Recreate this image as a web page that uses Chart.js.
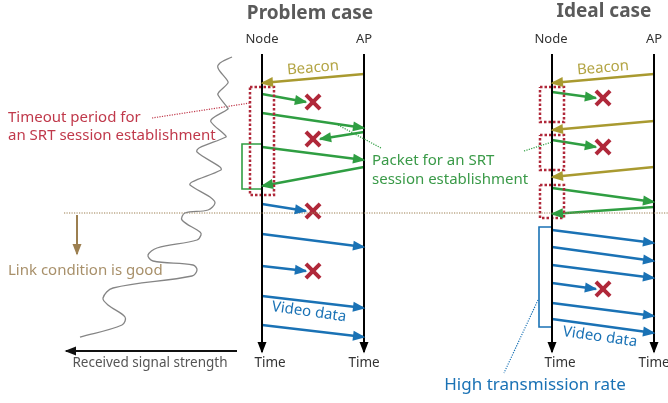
<!DOCTYPE html>
<html>
<head>
<meta charset="utf-8">
<script src="https://cdn.jsdelivr.net/npm/chart.js@4.4.0/dist/chart.umd.min.js"></script>
<style>
  html, body { margin: 0; padding: 0; background: #fff; }
</style>
</head>
<body>
<canvas id="diagram" width="668" height="403"></canvas>
<script>
// --- data: message times along each lifeline (top = earlier) ---
// [sendTime, arriveTime, lost?]
const problemBeacons = [[74, 83]];
const problemSrt = [[94, 102, true], [113, 128], [147, 160]];        // Node -> AP
const problemSrtReply = [[132, 139, true], [167, 186]];               // AP -> Node
const problemVideo = [[204, 211, true], [234, 247], [266, 271, true], [296, 308], [325, 337]];
const problemTimeout = [[87, 195]];
const problemRetry = [144, 189];

const idealBeacons = [[74, 83], [121, 130], [167, 177]];
const idealSrt = [[92, 98, true], [140, 147, true], [188, 202]];
const idealSrtReply = [[207, 214]];
const idealVideo = [[230, 243], [247, 261], [265, 278], [283, 289, true], [303, 316], [319, 333]];
const idealTimeout = [[87, 122], [135, 170], [185, 218]];
const idealBurst = [227, 327];

const linkGoodTime = 213;

// received signal strength trace (strength, time)
const signalStrength = [232, 220, 218, 227, 228, 219, 218, 227, 228, 213, 211, 225, 226, 199, 197, 220, 221, 192, 190, 210,
  215, 208, 185, 182, 200, 201, 197, 157, 148, 153, 193, 197, 192, 113, 103, 108, 125, 122, 80];
const signalTime = [57, 63, 68, 80, 83, 92, 95, 107, 109, 118, 122, 135, 137, 148, 152, 167, 170, 182, 185, 197,
  203, 210, 213, 220, 232, 235, 240, 248, 255, 261, 265, 270, 276, 288, 298, 305, 317, 325, 337];

// --- layout ---
const lanes = { problem: { node: 262, ap: 364 }, ideal: { node: 552, ap: 654 } };
const laneTop = 54, laneBottom = 352;

const GREEN = '#2f9e42', BEACON = '#a99a30', BLUE = '#1a72b5', RED = '#b0283a', TAN = '#9c7f50';

const datasets = [];
const crosses = [];

function line(points, color, opts) {
  datasets.push(Object.assign({
    data: points, showLine: true, borderColor: color, backgroundColor: color,
    borderWidth: 2.5, pointRadius: 0, tension: 0, fill: false
  }, opts || {}));
}

function messages(list, fromX, toX, color) {
  list.forEach(m => {
    let endX = toX;
    if (m[2]) {
      endX = fromX + (toX - fromX) * 0.43;
      crosses.push({ x: fromX + (toX - fromX) * 0.5, y: m[1] });
    }
    line([{ x: fromX, y: m[0] }, { x: endX, y: m[1] }], color, { arrow: true });
  });
}

function timeoutBoxes(list, nodeX) {
  list.forEach(t => {
    line([{ x: nodeX - 12, y: t[0] }, { x: nodeX + 12, y: t[0] }, { x: nodeX + 12, y: t[1] },
      { x: nodeX - 12, y: t[1] }, { x: nodeX - 12, y: t[0] }], RED, { borderDash: [2.5, 2], borderWidth: 2.5 });
  });
}

function bracket(t, nodeX, width, color) {
  line([{ x: nodeX, y: t[0] }, { x: nodeX - width, y: t[0] }, { x: nodeX - width, y: t[1] }, { x: nodeX, y: t[1] }],
    color, { borderWidth: 1.6 });
}

// signal strength trace
line(signalStrength.map((s, i) => ({ x: s, y: signalTime[i] })), '#858585', { borderWidth: 1.3, tension: 0.35 });

// link condition line + arrow
line([{ x: 64, y: linkGoodTime }, { x: 668, y: linkGoodTime }], TAN, { borderWidth: 1.2, borderDash: [1.2, 1.3] });
line([{ x: 77, y: linkGoodTime + 2 }, { x: 77, y: 254 }], TAN, { borderWidth: 2, arrow: true, headLen: 10, headWidth: 4.5 });

// received signal strength axis
line([{ x: 237, y: 351 }, { x: 66, y: 351 }], '#111', { borderWidth: 2, arrow: true, headLen: 10, headWidth: 4.5 });

// leaders
line([{ x: 152, y: 118 }, { x: 250, y: 103 }], '#c0394b', { borderWidth: 1.2, borderDash: [1.2, 1.3] });
line([{ x: 338, y: 125 }, { x: 381, y: 148 }], GREEN, { borderWidth: 1.2, borderDash: [1.2, 1.3] });
line([{ x: 524, y: 151 }, { x: 552, y: 142 }], GREEN, { borderWidth: 1.2, borderDash: [1.2, 1.3] });
line([{ x: 538, y: 300 }, { x: 504, y: 373 }], BLUE, { borderWidth: 1.2, borderDash: [1.2, 1.3] });

// lifelines
Object.values(lanes).forEach(l => {
  line([{ x: l.node, y: laneTop }, { x: l.node, y: laneBottom }], '#000', { borderWidth: 2, arrow: true, headLen: 10, headWidth: 4.5 });
  line([{ x: l.ap, y: laneTop }, { x: l.ap, y: laneBottom }], '#000', { borderWidth: 2, arrow: true, headLen: 10, headWidth: 4.5 });
});

// problem case
timeoutBoxes(problemTimeout, lanes.problem.node);
bracket(problemRetry, lanes.problem.node, 20, GREEN);
messages(problemBeacons, lanes.problem.ap, lanes.problem.node, BEACON);
messages(problemSrt, lanes.problem.node, lanes.problem.ap, GREEN);
messages(problemSrtReply, lanes.problem.ap, lanes.problem.node, GREEN);
messages(problemVideo, lanes.problem.node, lanes.problem.ap, BLUE);

// ideal case
timeoutBoxes(idealTimeout, lanes.ideal.node);
bracket(idealBurst, lanes.ideal.node, 13, BLUE);
messages(idealBeacons, lanes.ideal.ap, lanes.ideal.node, BEACON);
messages(idealSrt, lanes.ideal.node, lanes.ideal.ap, GREEN);
messages(idealSrtReply, lanes.ideal.ap, lanes.ideal.node, GREEN);
messages(idealVideo, lanes.ideal.node, lanes.ideal.ap, BLUE);

// lost packets
datasets.push({
  data: crosses, showLine: false, pointStyle: 'crossRot', pointRadius: 10,
  borderColor: RED, backgroundColor: RED, pointBorderWidth: 4
});

const FONT = '"Noto Sans", "Open Sans", sans-serif';
const texts = [
  { t: 'Problem case', x: 310, y: 14, c: '#5a5a5a', f: 'bold 19px' },
  { t: 'Ideal case', x: 604, y: 12, c: '#5a5a5a', f: 'bold 19px' },
  { t: 'Node', x: 262, y: 39, c: '#333', f: '13px' },
  { t: 'AP', x: 364, y: 39, c: '#333', f: '13px' },
  { t: 'Node', x: 551, y: 39, c: '#333', f: '13px' },
  { t: 'AP', x: 654, y: 39, c: '#333', f: '13px' },
  { t: 'Beacon', x: 313, y: 68, c: '#b3a443', f: '15px', r: -5 },
  { t: 'Beacon', x: 603, y: 68, c: '#b3a443', f: '15px', r: -5 },
  { t: 'Timeout period for', x: 8, y: 118, c: '#c0394b', f: '15px', a: 'left' },
  { t: 'an SRT session establishment', x: 8, y: 136, c: '#c0394b', f: '15px', a: 'left' },
  { t: 'Packet for an SRT', x: 372, y: 161, c: '#3a9a48', f: '15px', a: 'left' },
  { t: 'session establishment', x: 372, y: 180, c: '#3a9a48', f: '15px', a: 'left' },
  { t: 'Link condition is good', x: 8, y: 271, c: '#a8906a', f: '15px', a: 'left' },
  { t: 'Video data', x: 309, y: 312, c: BLUE, f: '15px', r: 8 },
  { t: 'Video data', x: 600, y: 337, c: BLUE, f: '15px', r: 8 },
  { t: 'Received signal strength', x: 150, y: 363, c: '#555', f: '13.5px' },
  { t: 'Time', x: 270, y: 363, c: '#333', f: '13.5px' },
  { t: 'Time', x: 364, y: 363, c: '#333', f: '13.5px' },
  { t: 'Time', x: 560, y: 363, c: '#333', f: '13.5px' },
  { t: 'Time', x: 654, y: 363, c: '#333', f: '13.5px' },
  { t: 'High transmission rate', x: 535, y: 385, c: BLUE, f: '17px' }
];

const arrowHeads = {
  id: 'arrowHeads',
  afterDatasetsDraw(chart) {
    const ctx = chart.ctx;
    chart.data.datasets.forEach((ds, i) => {
      if (!ds.arrow) return;
      const pts = chart.getDatasetMeta(i).data;
      const a = pts[pts.length - 2], b = pts[pts.length - 1];
      const ang = Math.atan2(b.y - a.y, b.x - a.x);
      const len = ds.headLen || 11, w = ds.headWidth || 5;
      ctx.save();
      ctx.fillStyle = ds.borderColor;
      ctx.translate(b.x, b.y);
      ctx.rotate(ang);
      ctx.beginPath();
      ctx.moveTo(1.5, 0);
      ctx.lineTo(-len, -w);
      ctx.lineTo(-len, w);
      ctx.closePath();
      ctx.fill();
      ctx.restore();
    });
  }
};

const labels = {
  id: 'labels',
  afterDraw(chart) {
    const ctx = chart.ctx, sx = chart.scales.x, sy = chart.scales.y;
    texts.forEach(l => {
      ctx.save();
      ctx.translate(sx.getPixelForValue(l.x), sy.getPixelForValue(l.y));
      if (l.r) ctx.rotate(l.r * Math.PI / 180);
      ctx.font = l.f + ' ' + FONT;
      ctx.fillStyle = l.c;
      ctx.textAlign = l.a || 'center';
      ctx.textBaseline = 'middle';
      ctx.fillText(l.t, 0, 0);
      ctx.restore();
    });
  }
};

new Chart(document.getElementById('diagram'), {
  type: 'scatter',
  data: { datasets: datasets },
  options: {
    responsive: false,
    animation: false,
    layout: { padding: 0, autoPadding: false },
    plugins: { legend: { display: false }, tooltip: { enabled: false } },
    scales: {
      x: { type: 'linear', min: 0, max: 668, display: false },
      y: { type: 'linear', min: 0, max: 403, reverse: true, display: false }
    }
  },
  plugins: [arrowHeads, labels]
});
</script>
</body>
</html>
